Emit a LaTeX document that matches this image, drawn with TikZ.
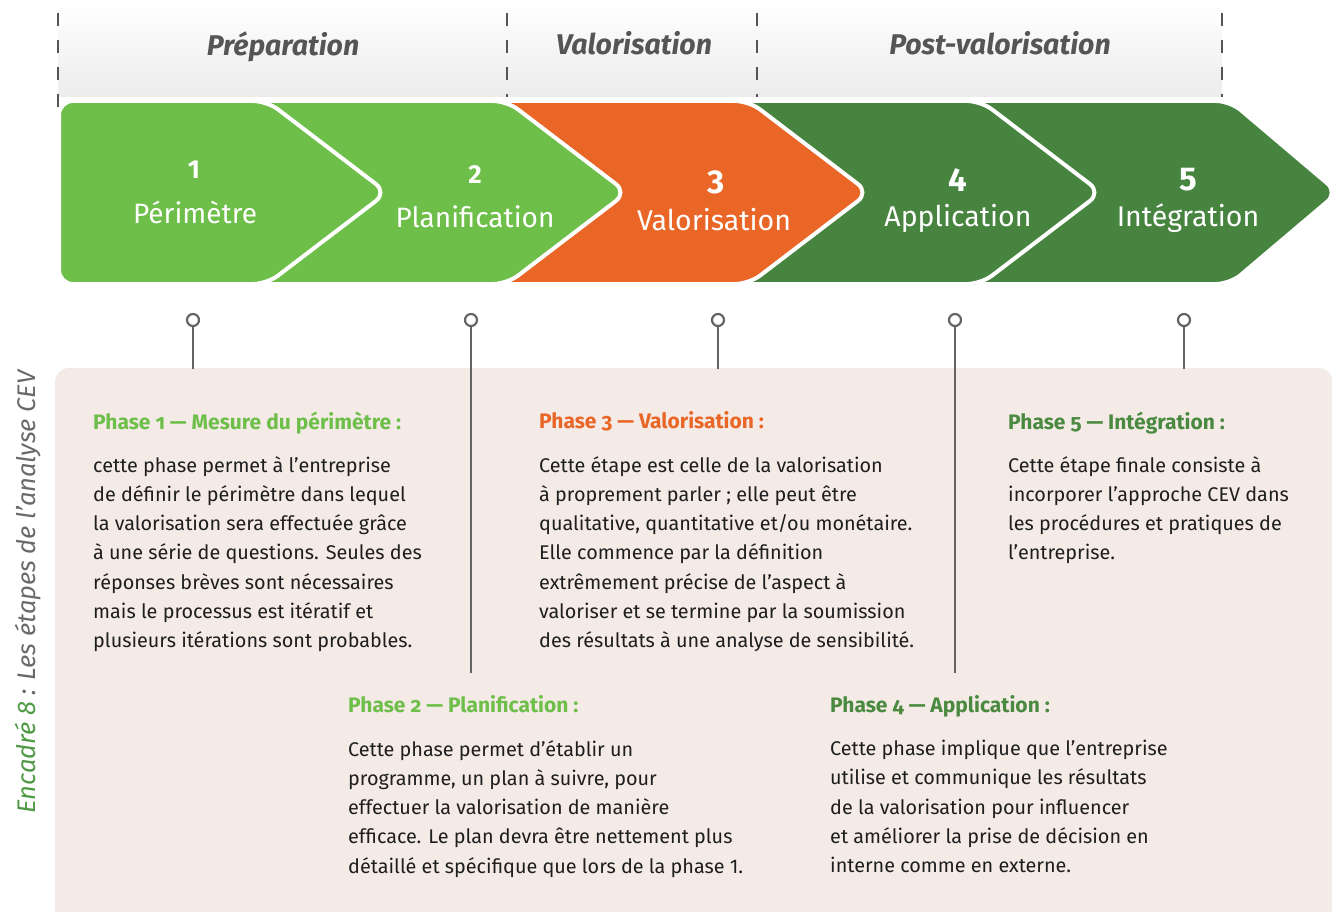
\documentclass[tikz,border=0pt]{standalone}
\usepackage{fontspec}
\setmainfont{Fira Sans}
\definecolor{lgreen}{HTML}{6EBE4A}
\definecolor{orng}{HTML}{E96627}
\definecolor{dgreen}{HTML}{46843F}
\definecolor{dgtext}{HTML}{4A8A40}
\definecolor{boxbg}{HTML}{F4EBE6}
\definecolor{pingray}{HTML}{646464}
\definecolor{hdrtext}{HTML}{555555}
\definecolor{hdrbot}{HTML}{ECECEC}
\definecolor{bodytext}{HTML}{1E1E1E}
\definecolor{sidegray}{HTML}{6A6A6A}
\definecolor{sidegreen}{HTML}{4F9A45}
\tikzset{
  chevron/.style={fill=#1, draw=white, line width=4pt, rounded corners=14pt},
  hdrlabel/.style={font=\fontsize{28.5}{32}\selectfont\bfseries\itshape, text=hdrtext, inner sep=0pt},
  sep/.style={draw=hdrtext, line width=2pt, dash pattern=on 13pt off 14pt},
  smallnum/.style={font=\fontsize{26}{30}\selectfont\bfseries, text=white, inner sep=0pt},
  smalllab/.style={font=\fontsize{28}{32}\selectfont, text=white, inner sep=0pt},
  bignum/.style={font=\fontsize{33}{38}\selectfont\bfseries, text=white, inner sep=0pt},
  biglab/.style={font=\fontsize{28.5}{32}\selectfont, text=white, inner sep=0pt},
  pinhead/.style={circle, draw=pingray, line width=2.2pt, fill=white, minimum size=12pt, inner sep=0pt},
  pinline/.style={draw=pingray, line width=2.4pt},
  heading/.style={font=\fontsize{21}{24}\selectfont\bfseries\addfontfeatures{Numbers=OldStyle}, anchor=north west, inner sep=0pt, text=#1},
  bodyblock/.style={font=\fontsize{19.8}{29.3}\selectfont, align=left, anchor=north west, inner sep=0pt, text=bodytext}
}
\begin{document}
\begin{tikzpicture}[x=1pt,y=-1pt]
\useasboundingbox (0,0) rectangle (1332,912);
% header band
\shade[top color=white, bottom color=hdrbot] (58,0) rectangle (1222,97);
\draw[sep] (58,13) -- (58,107);
\draw[sep] (507,13) -- (507,97);
\draw[sep] (757,13) -- (757,97);
\draw[sep] (1222,13) -- (1222,97);
\node[hdrlabel] (hprep) at (283,47) {Préparation};
\node[hdrlabel] (hval) at (634,43) {Valorisation};
\node[hdrlabel] (hpost) at (1000,43) {Post-valorisation};
% chevrons
\foreach \l/\t/\d/\c in {960/1338/108/dgreen, 720/1101/120/dgreen, 480/869/120/orng, 240/627/120/lgreen, 59/387/120/lgreen}
  \path[chevron=\c] (\l,101) -- (\t-\d,101) -- (\t,192.5) -- (\t-\d,284) -- (\l,284) -- cycle;
\node[smallnum] (n1) at (194,170) {1};
\node[smalllab] (l1) at (195,212) {Périmètre};
\node[smallnum] (n2) at (475,175) {2};
\node[smalllab] (l2) at (475,217) {Planification};
\node[bignum] (n3) at (716,182) {3};
\node[biglab] (l3) at (714,220) {Valorisation};
\node[bignum] (n4) at (958,180) {4};
\node[biglab] (l4) at (958,218) {Application};
\node[bignum] (n5) at (1188,180) {5};
\node[biglab] (l5) at (1188,218) {Intégration};
% content box
\fill[boxbg, rounded corners=14pt] (55,368) rectangle (1333,950);
% pins
\node[pinhead] (p1) at (193,320) {};
\node[pinhead] (p2) at (471,320) {};
\node[pinhead] (p3) at (718,320) {};
\node[pinhead] (p4) at (955,320) {};
\node[pinhead] (p5) at (1184,320) {};
\coordinate (e1) at (193,369);
\coordinate (e2) at (471,673);
\coordinate (e3) at (718,369);
\coordinate (e4) at (955,673);
\coordinate (e5) at (1184,369);
\foreach \i in {1,...,5} \draw[pinline] (p\i.south) -- (e\i);
% side caption
\node[rotate=90, font=\fontsize{25.5}{30}\selectfont\itshape, inner sep=0pt] (side) at (28,592)
  {\textcolor{sidegreen}{Encadré 8}\textcolor{sidegray}{\ : Les étapes de l’analyse CEV}};
% phase 1
\node[heading=lgreen] (h1) at (93,411.5) {Phase 1 — Mesure du périmètre :};
\node[bodyblock] (t1) at (93,456) {cette phase permet à l’entreprise\\de définir le périmètre dans lequel\\la valorisation sera effectuée grâce\\à une série de questions. Seules des\\réponses brèves sont nécessaires\\mais le processus est itératif et\\plusieurs itérations sont probables.};
% phase 3
\node[heading=orng] (h3) at (539,411.5) {Phase 3 — Valorisation :};
\node[bodyblock] (t3) at (539,456) {Cette étape est celle de la valorisation\\à proprement parler ; elle peut être\\qualitative, quantitative et/ou monétaire.\\Elle commence par la définition\\extrêmement précise de l’aspect à\\valoriser et se termine par la soumission\\des résultats à une analyse de sensibilité.};
% phase 5
\node[heading=dgtext] (h5) at (1008,411.5) {Phase 5 — Intégration :};
\node[bodyblock] (t5) at (1008,456) {Cette étape finale consiste à\\incorporer l’approche CEV dans\\les procédures et pratiques de\\l’entreprise.};
% phase 2
\node[heading=lgreen] (h2) at (348,695.5) {Phase 2 — Planification :};
\node[bodyblock] (t2) at (348,740) {Cette phase permet d’établir un\\programme, un plan à suivre, pour\\effectuer la valorisation de manière\\efficace. Le plan devra être nettement plus\\détaillé et spécifique que lors de la phase 1.};
% phase 4
\node[heading=dgtext] (h4) at (830,695.5) {Phase 4 — Application :};
\node[bodyblock] (t4) at (830,740) {Cette phase implique que l’entreprise\\utilise et communique les résultats\\de la valorisation pour influencer\\et améliorer la prise de décision en\\interne comme en externe.};
\end{tikzpicture}
\end{document}
